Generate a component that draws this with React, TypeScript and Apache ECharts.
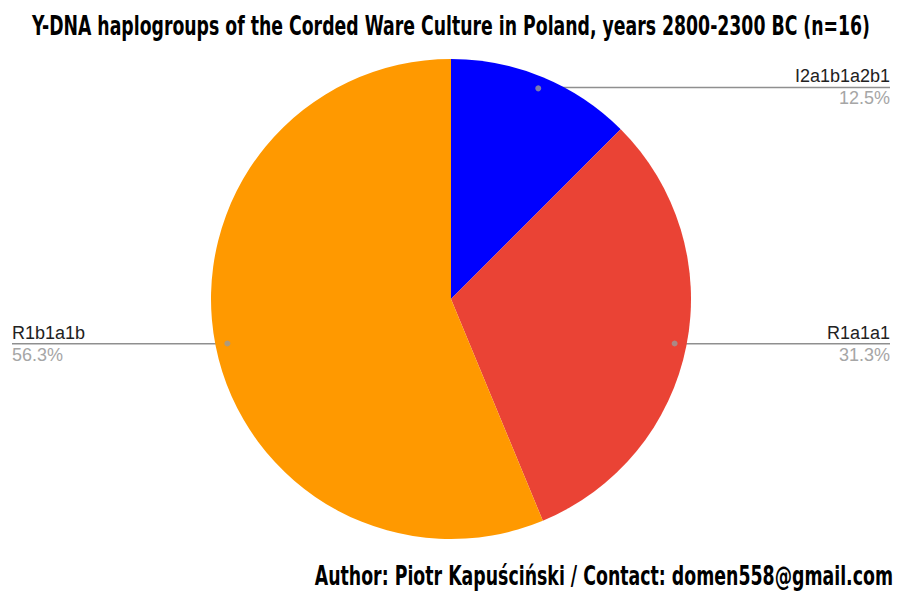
import React, { useEffect, useRef } from "react";
import * as echarts from "echarts";

const categories = ["I2a1b1a2b1", "R1a1a1", "R1b1a1b"];
const counts = [2, 5, 9];
const colors = ["#0000ff", "#ea4335", "#ff9900"];
const titleText = "Y-DNA haplogroups of the Corded Ware Culture in Poland, years 2800-2300 BC (n=16)";
const authorText = "Author: Piotr Kapuściński / Contact: domen558@gmail.com";

const boldFont = "'DejaVu Sans', sans-serif";
const labelFont = "'Liberation Sans', Arial, sans-serif";
const LABEL_SIZE = 18;

export default function App() {
  const ref = useRef<HTMLDivElement>(null);
  useEffect(() => {
    document.body.style.margin = "0";
    const chart = echarts.init(ref.current!, null, { renderer: "svg" });
    const total = counts.reduce((a, b) => a + b, 0);
    const mids: number[] = [];
    let acc = 0;
    counts.forEach((c) => {
      mids.push(acc + c / 2);
      acc += c;
    });
    const pctText = (v: number) => ((v / total) * 100).toFixed(1) + "%";
    const ctx = document.createElement("canvas").getContext("2d")!;
    ctx.font = `${LABEL_SIZE}px ${labelFont}`;
    const textW = (s: string) => ctx.measureText(s).width;
    const data = categories.map((name, i) => {
      const right = mids[i] / total < 0.5;
      const w = Math.max(textW(name), textW(pctText(counts[i])));
      return {
        name,
        value: counts[i],
        label: {
          edgeDistance: right ? 15 : 12,
          distanceToLabelLine: -w,
        },
      };
    });
    const center = [451, 299];
    chart.setOption({
      animation: false,
      graphic: [
        {
          type: "text",
          x: 451,
          y: 25,
          scaleX: 0.641,
          style: {
            text: titleText,
            align: "center",
            verticalAlign: "middle",
            fontFamily: boldFont,
            fontWeight: "bold",
            fontSize: 27,
            fill: "#000",
          },
        },
        {
          type: "text",
          x: 893,
          y: 575.5,
          scaleX: 0.668,
          style: {
            text: authorText,
            align: "right",
            verticalAlign: "middle",
            fontFamily: boldFont,
            fontWeight: "bold",
            fontSize: 26,
            fill: "#000",
          },
        },
      ],
      polar: { center, radius: 240 },
      angleAxis: { type: "value", min: 0, max: total, startAngle: 90, clockwise: true, show: false },
      radiusAxis: { type: "value", min: 0, max: 240, show: false },
      series: [
        {
          type: "pie",
          center,
          radius: 240,
          startAngle: 90,
          clockwise: true,
          silent: true,
          label: { show: false },
          labelLine: { show: false },
          itemStyle: { borderWidth: 0 },
          data: categories.map((name, i) => ({ name, value: counts[i], itemStyle: { color: colors[i] } })),
        },
        {
          type: "pie",
          center,
          radius: 228,
          startAngle: 90,
          clockwise: true,
          silent: true,
          itemStyle: { color: "rgba(0,0,0,0)", borderWidth: 0 },
          label: {
            show: true,
            position: "outer",
            alignTo: "edge",
            formatter: (p: any) => {
              const right = mids[p.dataIndex] / total < 0.5;
              const pct = pctText(p.value);
              return right ? `{nr|${p.name}}\n{pr|${pct}}` : `{nl|${p.name}}\n{pl|${pct}}`;
            },
            rich: {
              nr: { fontFamily: labelFont, fontSize: LABEL_SIZE, color: "#222", align: "right", lineHeight: 22 },
              pr: { fontFamily: labelFont, fontSize: LABEL_SIZE, color: "#a6a6a6", align: "right", lineHeight: 22 },
              nl: { fontFamily: labelFont, fontSize: LABEL_SIZE, color: "#222", align: "left", lineHeight: 22 },
              pl: { fontFamily: labelFont, fontSize: LABEL_SIZE, color: "#a6a6a6", align: "left", lineHeight: 22 },
            },
          },
          labelLine: {
            show: true,
            length: 1,
            length2: 10,
            minTurnAngle: 0,
            maxSurfaceAngle: 180,
            lineStyle: { color: "#8f8f8f", width: 1.5 },
          },
          data,
        },
        {
          type: "scatter",
          coordinateSystem: "polar",
          symbol: "circle",
          symbolSize: 6,
          silent: true,
          z: 5,
          itemStyle: { color: "#9a9a9a" },
          data: mids.map((m) => [228, m]),
        },
      ],
    });
    return () => chart.dispose();
  }, []);
  return <div ref={ref} style={{ width: 905, height: 600 }} />;
}
